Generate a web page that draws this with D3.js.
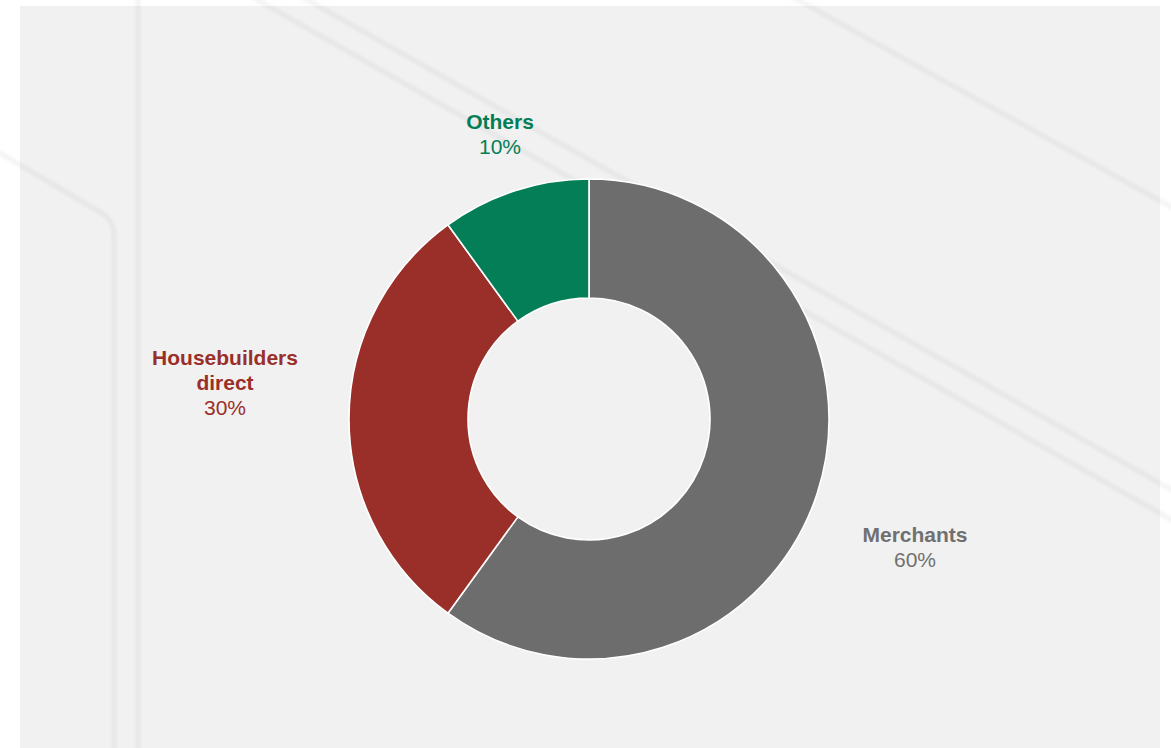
<!DOCTYPE html>
<html>
<head>
<meta charset="utf-8">
<script src="https://cdn.jsdelivr.net/npm/d3@7"></script>
<style>
  html, body { margin: 0; padding: 0; background: #ffffff; }
  svg { display: block; }
  text { font-family: "Liberation Sans", Arial, sans-serif; }
</style>
</head>
<body>
<svg id="chart" width="1171" height="748"></svg>
<script>
// Revenue split by channel
const categories = ["Merchants", "Housebuilders direct", "Others"];
const shares = [60, 30, 10];
const valueLabels = ["60%", "30%", "10%"];
const nameLines = [["Merchants"], ["Housebuilders", "direct"], ["Others"]];

const sliceColors = ["#6d6d6d", "#9a2f29", "#037e57"];
const textColors = ["#707070", "#9a2f29", "#037e57"];

// Anchor of each label block (x centre, baseline of first line)
const labelAnchors = [
  { x: 915, y: 541.5 },
  { x: 225, y: 365 },
  { x: 500, y: 129 }
];

const W = 1171, H = 748;
const svg = d3.select("#chart");

const defs = svg.append("defs");
defs.append("filter").attr("id", "soft")
  .attr("x", "-5%").attr("y", "-5%").attr("width", "110%").attr("height", "110%")
  .append("feGaussianBlur").attr("stdDeviation", 1.4);

// Panel
svg.append("rect")
  .attr("x", 20).attr("y", 6)
  .attr("width", 1140).attr("height", H - 6)
  .attr("fill", "#f1f1f1");

// Decorative background strokes
const deco = svg.append("g")
  .attr("fill", "none")
  .attr("stroke", "#000")
  .attr("stroke-opacity", 0.045)
  .attr("stroke-width", 5)
  .attr("filter", "url(#soft)");

deco.append("path").attr("d", "M138,-5 L138,760");
deco.append("path").attr("d", "M-12,146 L103,214 Q114,221 114,236 L114,760");
deco.append("path").attr("d", "M240,-10 L1200,536");
deco.append("path").attr("d", "M290,-10 L1200,506");
deco.append("path").attr("d", "M780,-10 L1200,223");

// Donut
const cx = 589, cy = 419;
const outerR = 240, innerR = 121;

const pie = d3.pie().sort(null).value(d => d.value);
const arc = d3.arc().innerRadius(innerR).outerRadius(outerR);

const data = categories.map((c, i) => ({ name: c, value: shares[i], i }));

const g = svg.append("g").attr("transform", `translate(${cx},${cy})`);
g.selectAll("path.slice")
  .data(pie(data))
  .join("path")
  .attr("class", "slice")
  .attr("d", arc)
  .attr("fill", d => sliceColors[d.data.i])
  .attr("stroke", "#ffffff")
  .attr("stroke-width", 1.6)
  .attr("stroke-linejoin", "round");

// Labels
const lineGap = 25;
const labels = svg.append("g");
data.forEach((d, i) => {
  const a = labelAnchors[i];
  const t = labels.append("text")
    .attr("text-anchor", "middle")
    .attr("fill", textColors[i])
    .attr("font-size", 21);
  nameLines[i].forEach((line, k) => {
    t.append("tspan")
      .attr("x", a.x)
      .attr("y", a.y + k * lineGap)
      .attr("font-weight", "bold")
      .text(line);
  });
  t.append("tspan")
    .attr("x", a.x)
    .attr("y", a.y + nameLines[i].length * lineGap)
    .attr("font-weight", "normal")
    .text(valueLabels[i]);
});
</script>
</body>
</html>
